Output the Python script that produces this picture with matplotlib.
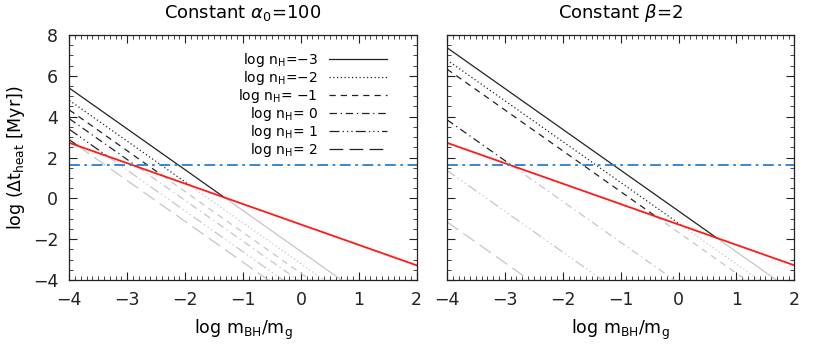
import numpy as np
import matplotlib
matplotlib.use("Agg")
import matplotlib.pyplot as plt
from matplotlib.lines import Line2D
from matplotlib.ticker import MultipleLocator

# x range of the drawn lines (log m_BH/m_g)
x_ends = [-4, 2]

# heating time lines, log(dt) read at x=-4 and x=2, for log nH = -3..2
labels = ["log n$_{\\rm H}$=\u22123", "log n$_{\\rm H}$=\u22122", "log n$_{\\rm H}$= \u22121",
          "log n$_{\\rm H}$= 0", "log n$_{\\rm H}$= 1", "log n$_{\\rm H}$= 2"]
alpha_start = [5.4, 4.8, 4.33, 3.9, 3.38, 2.87]
alpha_end = [-6.6, -7.2, -7.67, -8.1, -8.62, -9.13]
beta_start = [7.38, 6.78, 6.33, 3.85, 1.37, -1.15]
beta_end = [-4.62, -5.22, -5.67, -8.15, -10.63, -13.15]

# the red line and the blue horizontal line
red_y = [2.72, -3.28]
blue_y = 1.65

styles = ["-", (0, (1, 2)), (0, (5, 4)), (0, (6, 3, 1, 3)),
          (0, (8, 2.5, 1, 2.5, 1, 2.5, 1, 2.5)), (0, (11, 5))]
grey = "#c6c6c6"

fig = plt.figure(figsize=(8.3, 3.5), dpi=100)
ax1 = fig.add_axes([0.0835, 0.2, 0.4185, 0.7])
ax2 = fig.add_axes([0.5385, 0.2, 0.4185, 0.7])


def draw(ax, starts, ends):
    xr = np.array(x_ends, dtype=float)
    rs = np.array(red_y)
    for y0, y1, ls in zip(starts, ends, styles):
        ys = np.array([y0, y1])
        d = ys - rs
        if d[0] > 0 and d[1] < 0:
            t = d[0] / (d[0] - d[1])
            xc = xr[0] + t * (xr[1] - xr[0])
            yc = ys[0] + t * (ys[1] - ys[0])
            ax.plot([xr[0], xc], [ys[0], yc], color="#222222", lw=0.9, ls=ls)
            ax.plot([xc, xr[1]], [yc, ys[1]], color=grey, lw=0.9, ls=ls)
        else:
            ax.plot(xr, ys, color=grey, lw=0.9, ls=ls)
    ax.plot(xr, rs, color="#ff1a1a", lw=1.3)
    ax.axhline(blue_y, color="#2a7fd0", lw=1.3, ls=(0, (6, 2.5, 1.5, 2.5)))
    ax.set_xlim(-4, 2)
    ax.set_ylim(-4, 8)
    ax.xaxis.set_major_locator(MultipleLocator(1))
    ax.xaxis.set_minor_locator(MultipleLocator(0.1))
    ax.yaxis.set_major_locator(MultipleLocator(2))
    ax.yaxis.set_minor_locator(MultipleLocator(0.5))
    ax.tick_params(which="both", direction="in", top=True, right=True, labelsize=12.5, colors="#222222")
    ax.tick_params(which="major", length=6, width=0.8, pad=8)
    ax.tick_params(which="minor", length=3, width=0.6)
    for s in ax.spines.values():
        s.set_linewidth(0.9)
        s.set_color("#222222")
    ax.set_xlabel("log m$_{\\rm BH}$/m$_{\\rm g}$", fontsize=12.5, labelpad=6)


draw(ax1, alpha_start, alpha_end)
draw(ax2, beta_start, beta_end)
ax2.tick_params(labelleft=False)

ax1.set_ylabel("log ($\\Delta$t$_{\\rm heat}$ [Myr])", fontsize=12.5, labelpad=4)
ax1.set_title("Constant $\\alpha_0$=100", fontsize=13, pad=12)
ax2.set_title("Constant $\\beta$=2", fontsize=13, pad=12)

handles = [Line2D([], [], color="#222222", lw=0.9, ls=ls) for ls in styles]
ax1.legend(handles, labels, loc="upper right", bbox_to_anchor=(0.935, 0.965),
           markerfirst=False, frameon=False, fontsize=10, labelspacing=0.0,
           handlelength=4.2, handletextpad=0.8, alignment="right", borderpad=0)

fig.savefig("out.png", dpi=100)
